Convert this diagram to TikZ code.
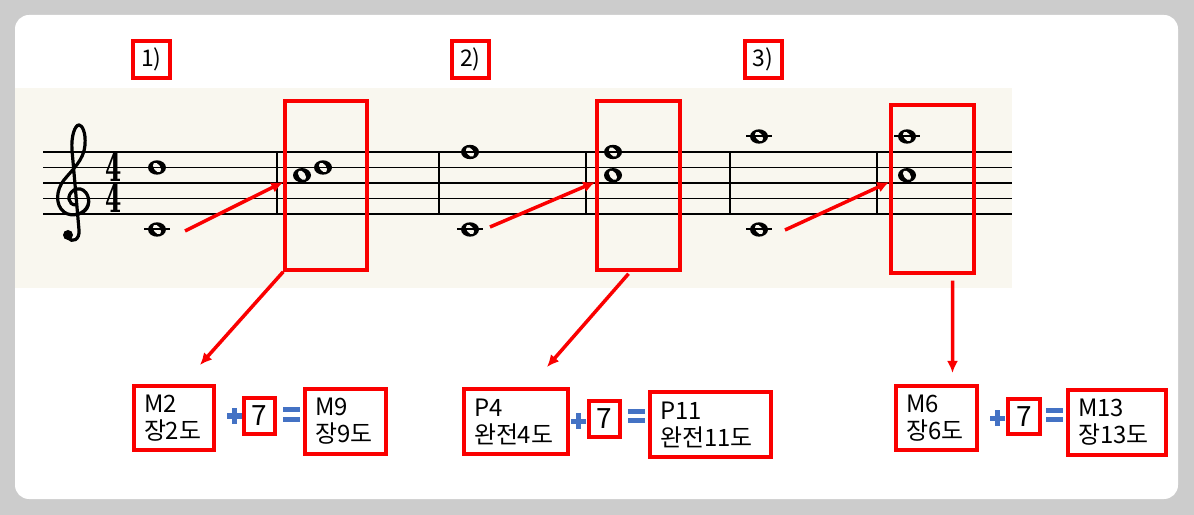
\documentclass[tikz,border=0pt]{standalone}
\usepackage{fontspec}
\newfontfamily\krfont{Noto Sans CJK KR}
\newfontfamily\timefont{DejaVu Serif}
\usetikzlibrary{arrows.meta}
\definecolor{boxred}{RGB}{250,0,0}
\definecolor{signblue}{RGB}{68,114,196}
\definecolor{paper}{RGB}{249,247,239}
\definecolor{frame}{RGB}{204,204,204}

\begin{document}
\begin{tikzpicture}[x=1bp,y=-1bp,line join=miter,
  tag/.style={draw=boxred,line width=4bp,minimum width=37bp,minimum height=37bp,inner sep=0pt,font=\krfont\fontsize{23}{23}\selectfont},
  chord/.style={draw=boxred,line width=3.5bp,minimum width=82bp,minimum height=169bp,inner sep=0pt},
  ivbox/.style={draw=boxred,line width=4bp,inner xsep=10bp,inner ysep=0pt,minimum height=65bp,align=left,font=\krfont\fontsize{24}{27}\selectfont},
  sevenbox/.style={draw=boxred,line width=4bp,minimum width=31bp,minimum height=36bp,inner sep=0pt,font=\krfont\fontsize{28}{28}\selectfont},
  timesig/.style={inner sep=0pt,align=center,font=\timefont\fontsize{38}{31}\bfseries},
  redarrow/.style={boxred,line width=3.5bp,-{Latex[length=12bp,width=11bp]}},
]
\useasboundingbox (0,0) rectangle (1194,515);
%% background
\fill[frame] (0,0) rectangle (1194,515);
\fill[white,rounded corners=14bp] (15,15) rectangle (1178,499);
\fill[paper] (15,88) rectangle (1012,288);
%% notes
\foreach \nx/\ny in {157/229.5, 157/167.5, 302/175.25, 323/167.5, 470/229.5, 470/152, 613/152, 613/175.25, 759/229.5, 759/136.5, 907/136.5, 907/175.25}{
  \fill (\nx,\ny) ellipse (9 and 7.2);
  \fill[paper,rotate around={35:(\nx,\ny)}] (\nx,\ny) ellipse (3.2 and 5.4);
}
%% staff
\foreach \ly in {152,167.5,183,198.5,214}
  \draw[line width=1.8bp] (43,\ly) -- (1012,\ly);
\foreach \bx in {277,439,586,730,877}
  \draw[line width=1.5bp] (\bx,152) -- (\bx,214);
\foreach \lx/\ly in {157/229.5, 470/229.5, 759/229.5, 759/136.5, 907/136.5}
  \draw[line width=2bp] (\lx-13,\ly) -- (\lx+13,\ly);
% clef and time
\draw[line width=3.2bp] (76,205) .. controls (68,205) and (66,195) .. (74,190)
  .. controls (84,185) and (91,197) .. (88,205)
  .. controls (85,214) and (72,218) .. (64,212)
  .. controls (55,205) and (56,190) .. (64,180)
  .. controls (72,170) and (84,160) .. (85,145)
  .. controls (86,132) and (82,125) .. (79,125)
  .. controls (75,125) and (71,136) .. (72,150)
  -- (79,230) .. controls (80,240) and (72,243) .. (68,238);
\draw[line width=2bp] (89,200) .. controls (90,209) and (84,214) .. (76,215);
\fill (68,235) circle (5);
\node (time_sig) at (114,183) [timesig] {\scalebox{0.62}[1]{4}\\\scalebox{0.62}[1]{4}};
%%
\node (tag_1) at (151.5,59.5) [tag] {1)};
\node (tag_2) at (470.5,59.5) [tag] {2)};
\node (tag_3) at (763,59.5) [tag] {3)};
\node (chord_1) at (326,185.5) [chord] {};
\node (chord_2) at (638.5,185.5) [chord,minimum width=83bp] {};
\node (chord_3) at (932.5,189) [chord,minimum width=83bp,minimum height=168bp] {};
%%
\node (iv_m2) at (174,418) [ivbox,text width=60bp,minimum height=64bp] {M2\\장2도};
\node (seven_1) at (259.5,416) [sevenbox] {7};
\node (iv_m9) at (345.5,421.5) [ivbox,text width=61bp] {M9\\장9도};
\node (iv_p4) at (516,421.5) [ivbox,text width=84bp] {P4\\완전4도};
\node (seven_2) at (604.5,419) [sevenbox] {7};
\node (iv_p11) at (710.5,424.5) [ivbox,text width=101bp] {P11\\완전11도};
\node (iv_m6) at (936.5,418) [ivbox,text width=61bp,minimum height=64bp] {M6\\장6도};
\node (seven_3) at (1024,416.5) [sevenbox,minimum width=32bp,minimum height=35bp] {7};
\node (iv_m13) at (1117,422.5) [ivbox,text width=78bp] {M13\\장13도};
% plus and equals
\foreach \px/\py in {234.5/416, 578.5/421, 997.5/418}{
  \fill[signblue] (\px-7.5,\py-2.5) rectangle (\px+7.5,\py+2.5);
  \fill[signblue] (\px-2.5,\py-7.5) rectangle (\px+2.5,\py+7.5);
}
\foreach \ex/\ey in {291.5/414.5, 636.5/416, 1054/415}{
  \fill[signblue] (\ex-8.5,\ey-7) rectangle (\ex+8.5,\ey-2);
  \fill[signblue] (\ex-8.5,\ey+2) rectangle (\ex+8.5,\ey+7);
}
%% arrows
\coordinate (low_1) at (185,231);
\coordinate (low_2) at (490,227);
\coordinate (low_3) at (785,230);
\coordinate (tip_1) at (200,365);
\coordinate (tip_2) at (547,367);
\coordinate (tip_3) at (952.5,373);
\draw [redarrow] (low_1) -- ([yshift=3.5bp]chord_1.west);
\draw [redarrow] (low_2) -- ([yshift=3.5bp]chord_2.west);
\draw [redarrow] (low_3) -- ([yshift=7bp]chord_3.west);
\draw [redarrow] (chord_1.south west) -- (tip_1);
\draw [redarrow] ([xshift=-10bp,yshift=-2bp]chord_2.south) -- (tip_2);
\draw [redarrow] ([xshift=20bp,yshift=-6bp]chord_3.south) -- (tip_3);
%
\end{tikzpicture}
\end{document}
